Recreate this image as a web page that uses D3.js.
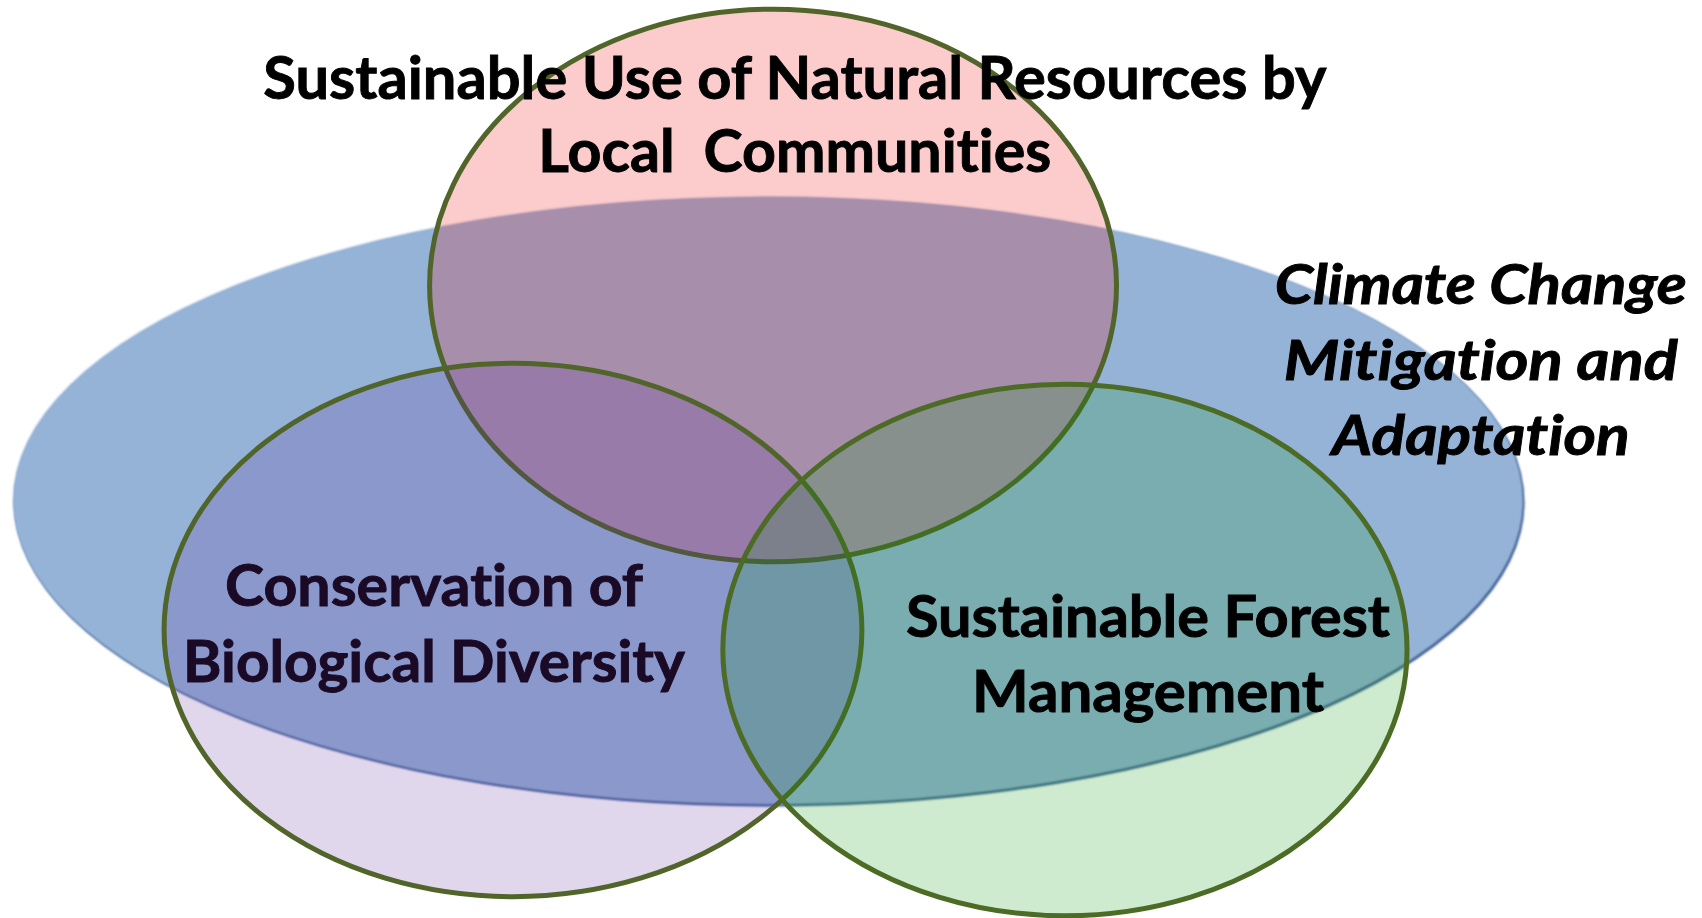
<!DOCTYPE html>
<html>
<head>
<meta charset="utf-8">
<script src="https://cdn.jsdelivr.net/npm/d3@7.9.0/dist/d3.min.js"></script>
<style>
  html, body { margin: 0; padding: 0; background: #fff; }
  svg { display: block; }
  text { font-variant-ligatures: none; }
</style>
</head>
<body>
<svg id="venn" width="1702" height="918"></svg>
<script>
// Sets, in diagram units (0-100 across and down)
const setNames = ['Climate Change', 'Local Communities', 'Biological Diversity', 'Forest Management'];
const setCx = [45.12, 45.42, 30.14, 62.57];
const setCy = [54.52, 31.1, 68.63, 70.81];
const setRx = [44.36, 20.18, 20.5, 20.1];
const setRy = [33.12, 30.1, 29.05, 28.95];
// tint colours laid over the page at low opacity
const setFill = ['#95b3d7', '#f00000', '#59219b', '#0a9410'];
const setAlpha = [1, 0.2, 0.18, 0.2];

// Labels, one list of lines per set
const labelLines = [
  ['Climate Change', 'Mitigation and', 'Adaptation'],
  ['Sustainable Use of Natural Resources by', 'Local  Communities'],
  ['Conservation of', 'Biological Diversity'],
  ['Sustainable Forest', 'Management']
];
const labelX = [87.0, 46.7, 25.5, 67.45];
const labelY = [
  [33.1, 41.4, 49.6],
  [10.8, 18.75],
  [66.0, 74.3],
  [69.4, 77.6]
];
const labelWidth = [[412, 394, 298], [1063, 513], [418, 502], [484, 352]];

const width = 1702, height = 918;
const x = d3.scaleLinear().domain([0, 100]).range([0, width]);
const y = d3.scaleLinear().domain([0, 100]).range([0, height]);

const svg = d3.select('#venn');
const defs = svg.append('defs');
defs.append('filter').attr('id', 'soft')
  .append('feGaussianBlur').attr('stdDeviation', 0.8);

// big blue ellipse with a dark edge toward bottom-right
svg.append('ellipse')
  .attr('cx', x(setCx[0]) + 1.5).attr('cy', y(setCy[0]) + 2)
  .attr('rx', x(setRx[0]) - x(0)).attr('ry', y(setRy[0]) - y(0))
  .attr('fill', '#34558a')
  .attr('filter', 'url(#soft)');
svg.append('ellipse')
  .attr('cx', x(setCx[0])).attr('cy', y(setCy[0]))
  .attr('rx', x(setRx[0]) - x(0)).attr('ry', y(setRy[0]) - y(0))
  .attr('fill', setFill[0])
  .attr('filter', 'url(#soft)');

// the three smaller sets, each drawn fill then ring, in stacking order
d3.range(1, 4).forEach((i) => {
  svg.append('ellipse')
    .attr('cx', x(setCx[i])).attr('cy', y(setCy[i]))
    .attr('rx', x(setRx[i]) - x(0)).attr('ry', y(setRy[i]) - y(0))
    .attr('fill', setFill[i])
    .attr('fill-opacity', setAlpha[i])
    .attr('stroke', i === 3 ? '#4c6b24' : '#51652a')
    .attr('stroke-width', 5);
});

// labels
const fontSize = [56, 60, 58, 58];
const labelColor = ['#000', '#000', '#1a0a26', '#000'];

labelLines.forEach((lines, i) => {
  const t = svg.append('text')
    .attr('text-anchor', 'middle')
    .attr('font-family', 'Lato, "Open Sans", sans-serif')
    .attr('font-weight', 'bold')
    .attr('font-style', i === 0 ? 'italic' : 'normal')
    .attr('font-size', fontSize[i])
    .attr('fill', labelColor[i])
    .attr('stroke', labelColor[i])
    .attr('stroke-width', 0.9)
    .attr('aria-label', setNames[i]);
  lines.forEach((line, j) => {
    t.append('tspan')
      .attr('x', x(labelX[i]))
      .attr('y', y(labelY[i][j]))
      .attr('textLength', labelWidth[i][j])
      .attr('lengthAdjust', 'spacingAndGlyphs')
      .style('white-space', 'pre')
      .text(line);
  });
});
</script>
</body>
</html>
